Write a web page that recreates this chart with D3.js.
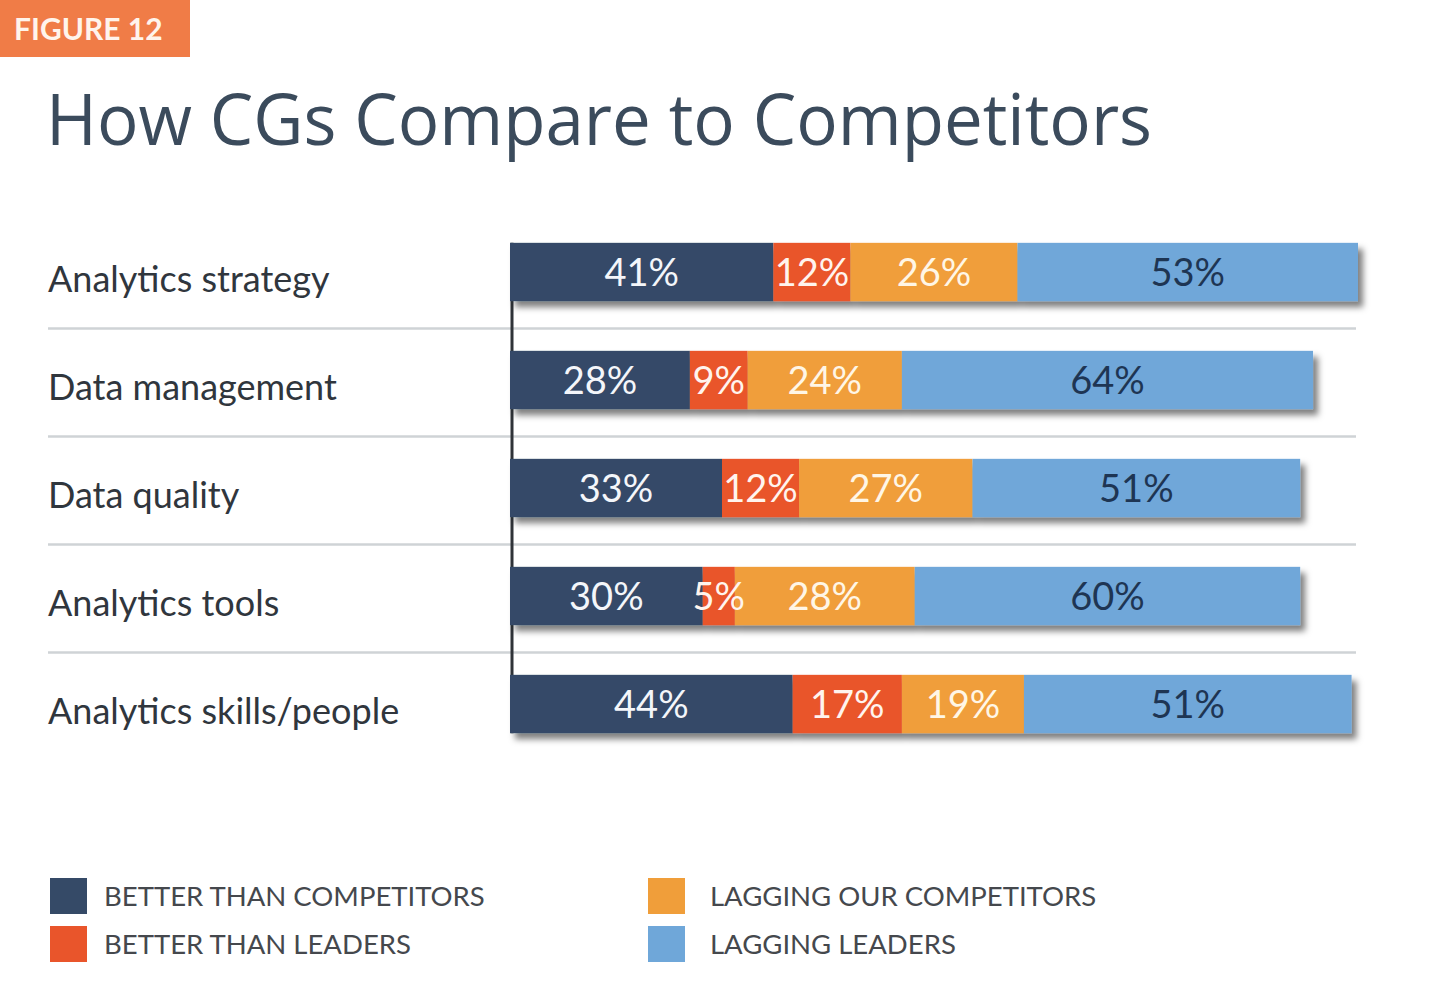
<!DOCTYPE html>
<html>
<head>
<meta charset="utf-8">
<script src="https://cdn.jsdelivr.net/npm/d3@7"></script>
<style>
  html, body { margin: 0; padding: 0; background: #ffffff; }
  svg { display: block; }
</style>
</head>
<body>
<svg id="chart" width="1440" height="982"></svg>
<script>
const categories = ["Analytics strategy", "Data management", "Data quality", "Analytics tools", "Analytics skills/people"];
const seriesNames = ["BETTER THAN COMPETITORS", "BETTER THAN LEADERS", "LAGGING OUR COMPETITORS", "LAGGING LEADERS"];
const betterThanCompetitors = [41, 28, 33, 30, 44];
const betterThanLeaders = [12, 9, 12, 5, 17];
const laggingOurCompetitors = [26, 24, 27, 28, 19];
const laggingLeaders = [53, 64, 51, 60, 51];
const seriesValues = [betterThanCompetitors, betterThanLeaders, laggingOurCompetitors, laggingLeaders];
const colors = ["#354a67", "#e9552b", "#f09e3a", "#6fa7d9"];
const labelColors = ["#f4f6fa", "#fff4ee", "#fff6e6", "#1e3553"];

const svg = d3.select("#chart");
const FONT = "Lato, 'Open Sans', sans-serif";

// defs: drop shadow
const defs = svg.append("defs");
const f = defs.append("filter").attr("id", "shadow").attr("x", "-5%").attr("y", "-30%").attr("width", "115%").attr("height", "180%");
f.append("feDropShadow").attr("dx", 5).attr("dy", 6).attr("stdDeviation", 3).attr("flood-color", "#000").attr("flood-opacity", 0.5);

// Figure badge
svg.append("rect").attr("x", 0).attr("y", 0).attr("width", 190).attr("height", 57).attr("fill", "#f07c47");
svg.append("text").attr("x", 14).attr("y", 40).text("FIGURE 12")
  .attr("font-family", FONT).attr("font-weight", 700).attr("font-size", 30).attr("fill", "#fff4ec");

// Title
svg.append("text").attr("x", 46).attr("y", 145).text("How CGs Compare to Competitors")
  .attr("font-family", "'Open Sans', sans-serif").attr("font-size", 72).attr("fill", "#3b4b5c")
  .attr("textLength", 1106).attr("lengthAdjust", "spacingAndGlyphs");

// Data table
const rows = categories.map((c, i) => {
  const row = { category: c };
  seriesNames.forEach((s, j) => row[s] = seriesValues[j][i]);
  return row;
});
const stacked = d3.stack().keys(seriesNames)(rows);
const maxTotal = d3.max(rows, r => d3.sum(seriesNames, s => r[s]));

const x = d3.scaleLinear().domain([0, maxTotal]).range([510, 1358]);
const y = d3.scaleBand().domain(categories).range([218, 758]).paddingInner(0.46).paddingOuter(0.23);

// separators
const gap = y.step() - y.bandwidth();
const sepY = categories.slice(0, -1).map(c => y(c) + y.bandwidth() + gap * 0.55);
svg.append("g").selectAll("line").data(sepY).join("line")
  .attr("x1", 48).attr("x2", 1356).attr("y1", d => d).attr("y2", d => d)
  .attr("stroke", "#cfd3d6").attr("stroke-width", 2.5);

// vertical axis line
svg.append("line").attr("x1", 512).attr("x2", 512)
  .attr("y1", y(categories[0])).attr("y2", y(categories[categories.length - 1]) + y.bandwidth())
  .attr("stroke", "#2f3338").attr("stroke-width", 3);

// bars with shadow
const barsG = svg.append("g");
categories.forEach((c, i) => {
  const g = barsG.append("g").attr("filter", "url(#shadow)");
  stacked.forEach((layer, j) => {
    const d = layer[i];
    g.append("rect")
      .attr("x", x(d[0])).attr("y", y(c))
      .attr("width", x(d[1]) - x(d[0])).attr("height", y.bandwidth())
      .attr("fill", colors[j]);
  });
});

// value labels
stacked.forEach((layer, j) => {
  svg.append("g").selectAll("text").data(layer).join("text")
    .attr("x", d => (x(d[0]) + x(d[1])) / 2)
    .attr("y", (d, i) => y(categories[i]) + y.bandwidth() / 2)
    .attr("dy", "0.36em")
    .attr("text-anchor", "middle")
    .attr("font-family", FONT).attr("font-size", 38)
    .attr("fill", labelColors[j])
    .text(d => (d[1] - d[0]) + "%");
});

// category labels
svg.append("g").selectAll("text").data(categories).join("text")
  .attr("x", 48).attr("y", c => y(c) + y.bandwidth() / 2 + 7)
  .attr("dy", "0.36em")
  .attr("font-family", FONT).attr("font-size", 36)
  .attr("fill", "#30363d")
  .text(c => c);

// legend
const legendPos = [[50, 878, 104], [50, 926, 104], [648, 878, 710], [648, 926, 710]];
const lg = svg.append("g");
seriesNames.forEach((s, j) => {
  const [lx, ly, tx] = legendPos[j];
  lg.append("rect").attr("x", lx).attr("y", ly).attr("width", 37).attr("height", 36).attr("fill", colors[j]);
  lg.append("text").attr("x", tx).attr("y", ly + 18).attr("dy", "0.36em")
    .attr("font-family", FONT).attr("font-size", 27.5).attr("fill", "#45484d")
    .text(s);
});
</script>
</body>
</html>
